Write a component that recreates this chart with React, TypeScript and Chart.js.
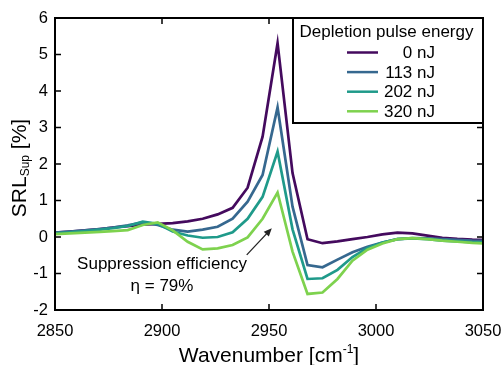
import React, { useEffect, useRef } from "react";
import { Chart, registerables } from "chart.js";

Chart.register(...registerables);

const wavenumbers = [2850, 2857, 2864, 2871, 2877, 2884, 2891, 2898, 2905, 2912, 2919, 2926, 2933, 2940, 2947, 2954, 2961, 2968, 2975, 2982, 2989, 2996, 3003, 3010, 3017, 3024, 3031, 3038, 3045, 3052];

const srl0 = [0.12, 0.15, 0.18, 0.22, 0.26, 0.3, 0.34, 0.36, 0.38, 0.43, 0.5, 0.62, 0.8, 1.35, 2.75, 5.31, 1.75, -0.06, -0.17, -0.12, -0.06, 0.0, 0.07, 0.12, 0.1, 0.04, -0.02, -0.05, -0.07, -0.08];
const srl113 = [0.12, 0.15, 0.18, 0.22, 0.26, 0.32, 0.4, 0.33, 0.2, 0.15, 0.2, 0.28, 0.5, 0.97, 1.7, 3.55, 0.83, -0.77, -0.83, -0.62, -0.42, -0.27, -0.15, -0.06, -0.03, -0.04, -0.06, -0.08, -0.1, -0.11];
const srl202 = [0.1, 0.13, 0.16, 0.2, 0.24, 0.3, 0.42, 0.36, 0.15, 0.04, -0.02, 0.0, 0.13, 0.5, 1.1, 2.34, 0.21, -1.15, -1.13, -0.9, -0.55, -0.3, -0.15, -0.06, -0.04, -0.06, -0.1, -0.12, -0.14, -0.15];
const srl320 = [0.08, 0.1, 0.12, 0.14, 0.16, 0.19, 0.33, 0.4, 0.18, -0.13, -0.34, -0.31, -0.22, -0.01, 0.5, 1.22, -0.4, -1.56, -1.52, -1.15, -0.65, -0.35, -0.18, -0.06, -0.03, -0.06, -0.1, -0.13, -0.16, -0.18];

const seriesLabels = ["0 nJ", "113 nJ", "202 nJ", "320 nJ"];
const seriesColors = ["#440a5e", "#36688f", "#1f9a8a", "#7ed24e"];
const legendTitle = "Depletion pulse energy";

const xTicks = [2850, 2900, 2950, 3000, 3050];
const yTicks = [-2, -1, 0, 1, 2, 3, 4, 5, 6];

const annotationLine1 = "Suppression efficiency";
const annotationLine2 = "η = 79%";
const annotationAnchor = { x: 2900, y1: -0.74, y2: -1.34 };
const arrowFrom = { x: 2939.6, y: -0.49 };
const arrowTo = { x: 2951.3, y: 0.24 };

const FONT = "'Liberation Sans', Arial, sans-serif";

const decorPlugin = {
  id: "decor",
  afterDraw(chart: any) {
    const ctx = chart.ctx;
    const { left, right, top, bottom } = chart.chartArea;
    const xs = chart.scales.x;
    const ys = chart.scales.y;
    ctx.save();

    // inner ticks
    ctx.strokeStyle = "#000";
    ctx.lineWidth = 1.5;
    ctx.beginPath();
    for (const v of xTicks) {
      const px = xs.getPixelForValue(v);
      ctx.moveTo(px, bottom);
      ctx.lineTo(px, bottom - 6);
      ctx.moveTo(px, top);
      ctx.lineTo(px, top + 6);
    }
    for (const v of yTicks) {
      const py = ys.getPixelForValue(v);
      ctx.moveTo(left, py);
      ctx.lineTo(left + 6, py);
      ctx.moveTo(right, py);
      ctx.lineTo(right - 6, py);
    }
    ctx.stroke();

    // legend box
    const lgL = 293, lgT = top, lgR = right, lgB = 123;
    ctx.fillStyle = "#fff";
    ctx.fillRect(lgL, lgT, lgR - lgL, lgB - lgT);
    ctx.lineWidth = 2;
    ctx.strokeStyle = "#000";
    ctx.strokeRect(lgL, lgT, lgR - lgL, lgB - lgT);
    ctx.fillStyle = "#000";
    ctx.font = `17px ${FONT}`;
    ctx.textAlign = "center";
    ctx.textBaseline = "middle";
    ctx.fillText(legendTitle, 386.5, 32);
    seriesLabels.forEach((lab, i) => {
      const yy = 52.5 + i * 19.6;
      ctx.strokeStyle = seriesColors[i];
      ctx.lineWidth = 2.5;
      ctx.beginPath();
      ctx.moveTo(347, yy);
      ctx.lineTo(378, yy);
      ctx.stroke();
      ctx.fillStyle = "#000";
      ctx.textAlign = "right";
      ctx.fillText(lab, 435, yy + 1);
    });

    // frame
    ctx.strokeStyle = "#000";
    ctx.lineWidth = 2;
    ctx.strokeRect(left, top, right - left, bottom - top);

    // annotation
    ctx.fillStyle = "#000";
    ctx.font = `17px ${FONT}`;
    ctx.textAlign = "center";
    ctx.textBaseline = "middle";
    const ax = xs.getPixelForValue(annotationAnchor.x);
    ctx.fillText(annotationLine1, ax, ys.getPixelForValue(annotationAnchor.y1));
    ctx.fillText(annotationLine2, ax, ys.getPixelForValue(annotationAnchor.y2));

    // arrow
    const x1 = xs.getPixelForValue(arrowFrom.x), y1 = ys.getPixelForValue(arrowFrom.y);
    const x2 = xs.getPixelForValue(arrowTo.x), y2 = ys.getPixelForValue(arrowTo.y);
    const ang = Math.atan2(y2 - y1, x2 - x1);
    ctx.strokeStyle = "#222";
    ctx.lineWidth = 1.3;
    ctx.beginPath();
    ctx.moveTo(x1, y1);
    ctx.lineTo(x2 - 4 * Math.cos(ang), y2 - 4 * Math.sin(ang));
    ctx.stroke();
    ctx.fillStyle = "#222";
    ctx.beginPath();
    ctx.moveTo(x2, y2);
    ctx.lineTo(x2 - 8 * Math.cos(ang) + 3.5 * Math.sin(ang), y2 - 8 * Math.sin(ang) - 3.5 * Math.cos(ang));
    ctx.lineTo(x2 - 8 * Math.cos(ang) - 3.5 * Math.sin(ang), y2 - 8 * Math.sin(ang) + 3.5 * Math.cos(ang));
    ctx.closePath();
    ctx.fill();

    // x title
    ctx.fillStyle = "#000";
    ctx.textAlign = "left";
    ctx.textBaseline = "alphabetic";
    const main = "Wavenumber [cm";
    const sup = "-1";
    const end = "]";
    ctx.font = `21px ${FONT}`;
    const wMain = ctx.measureText(main).width;
    const wEnd = ctx.measureText(end).width;
    ctx.font = `12px ${FONT}`;
    const wSup = ctx.measureText(sup).width;
    const total = wMain + wSup + wEnd;
    const cx = (left + right) / 2;
    let sx = cx - total / 2;
    const base = 362;
    ctx.font = `21px ${FONT}`;
    ctx.fillText(main, sx, base);
    sx += wMain;
    ctx.font = `12px ${FONT}`;
    ctx.fillText(sup, sx, base - 9);
    sx += wSup;
    ctx.font = `21px ${FONT}`;
    ctx.fillText(end, sx, base);

    // y title
    ctx.save();
    ctx.translate(20, (top + bottom) / 2 + 4);
    ctx.rotate(-Math.PI / 2);
    ctx.textBaseline = "middle";
    const yMain = "SRL";
    const ySub = "Sup";
    const yEnd = " [%]";
    ctx.font = `21px ${FONT}`;
    const w1 = ctx.measureText(yMain).width;
    const w3 = ctx.measureText(yEnd).width;
    ctx.font = `12px ${FONT}`;
    const w2 = ctx.measureText(ySub).width;
    let tx = -(w1 + w2 + w3) / 2;
    ctx.font = `21px ${FONT}`;
    ctx.fillText(yMain, tx, 0);
    tx += w1;
    ctx.font = `12px ${FONT}`;
    ctx.fillText(ySub, tx, 6);
    tx += w2;
    ctx.font = `21px ${FONT}`;
    ctx.fillText(yEnd, tx, 0);
    ctx.restore();

    ctx.restore();
  },
};

export default function App() {
  const canvasRef = useRef<HTMLCanvasElement | null>(null);

  useEffect(() => {
    const canvas = canvasRef.current;
    if (!canvas) return;
    const seriesValues = [srl0, srl113, srl202, srl320];
    const chart = new Chart(canvas, {
      type: "line",
      data: {
        datasets: seriesValues.map((vals, i) => ({
          label: seriesLabels[i],
          data: wavenumbers.map((w, j) => ({ x: w, y: vals[j] })),
          borderColor: seriesColors[i],
          backgroundColor: seriesColors[i],
          borderWidth: 2.7,
          pointRadius: 0,
          tension: 0,
          fill: false,
          order: 3 - i,
        })),
      },
      options: {
        animation: false,
        responsive: false,
        devicePixelRatio: 1,
        layout: { padding: { top: 18, right: 18, left: 0, bottom: 0 } },
        plugins: { legend: { display: false }, tooltip: { enabled: false } },
        scales: {
          x: {
            type: "linear",
            min: 2850,
            max: 3050,
            grid: { display: false, drawTicks: false },
            border: { display: false },
            ticks: {
              stepSize: 50,
              padding: 12,
              color: "#000",
              font: { size: 16.5, family: FONT },
              maxRotation: 0,
              callback: (v: any) => String(v),
            },
            afterFit: (scale: any) => {
              scale.height = 55;
              scale.paddingLeft = 0;
              scale.paddingRight = 0;
            },
          },
          y: {
            type: "linear",
            min: -2,
            max: 6,
            grid: { display: false, drawTicks: false },
            border: { display: false },
            ticks: {
              stepSize: 1,
              padding: 7,
              color: "#000",
              font: { size: 16.5, family: FONT },
            },
            afterFit: (scale: any) => {
              scale.width = 55;
              scale.paddingTop = 0;
              scale.paddingBottom = 0;
            },
          },
        },
      },
      plugins: [decorPlugin],
    });
    return () => chart.destroy();
  }, []);

  return (
    <div style={{ position: "fixed", left: 0, top: 0, width: 501, height: 365, background: "#fff" }}>
      <canvas ref={canvasRef} width={501} height={365} />
    </div>
  );
}
